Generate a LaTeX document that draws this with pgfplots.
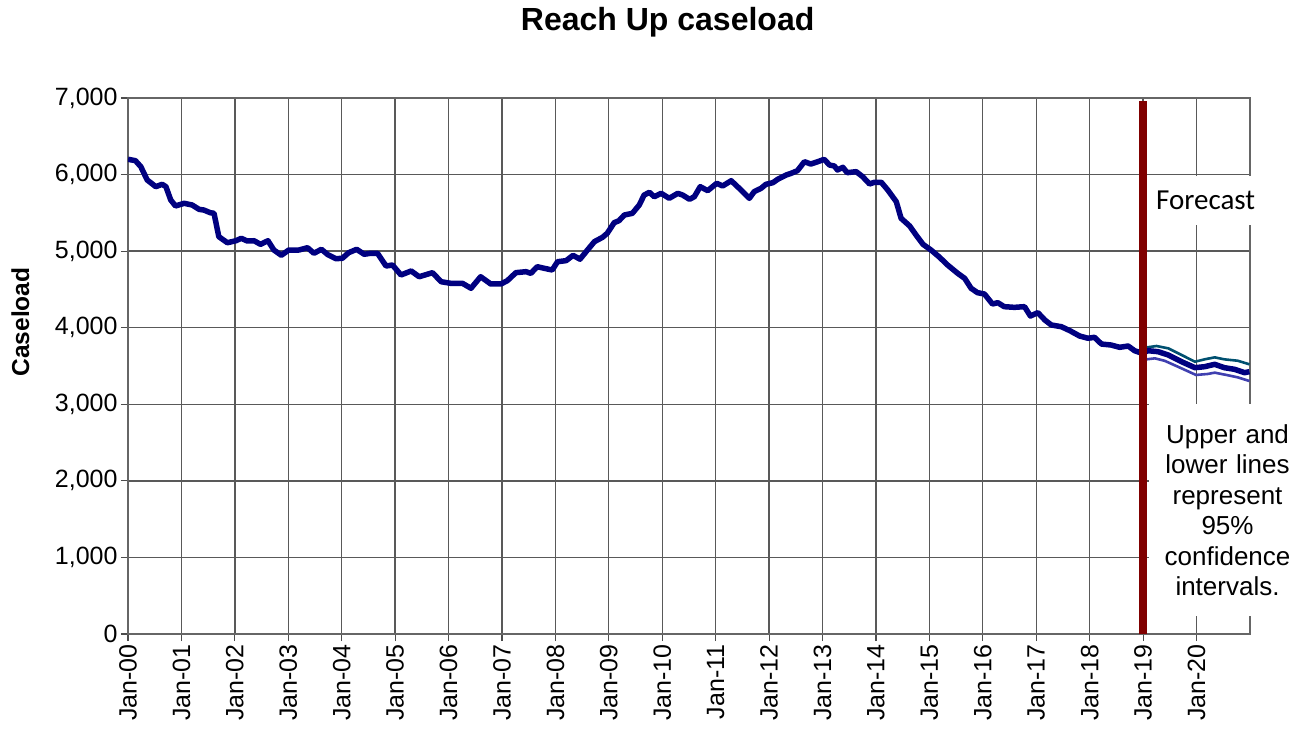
\documentclass[border=0pt]{standalone}
\usepackage{fontspec}
\setmainfont{Liberation Sans}
\newfontfamily\carlito{Carlito}
\usepackage{pgfplots}
\pgfplotsset{compat=1.18}
\definecolor{navyc}{RGB}{0,0,128}
\definecolor{upc}{RGB}{0,80,112}
\definecolor{loc}{RGB}{64,64,176}
\definecolor{fred}{RGB}{128,0,0}
\begin{document}
\begin{tikzpicture}
\begin{axis}[
  scale only axis, width=1122pt, height=536pt,
  xmin=0, xmax=21, ymin=0, ymax=7000,
  clip mode=individual,
  xtick={0,...,20},
  xticklabels={Jan-00,Jan-01,Jan-02,Jan-03,Jan-04,Jan-05,Jan-06,Jan-07,Jan-08,Jan-09,Jan-10,Jan-11,Jan-12,Jan-13,Jan-14,Jan-15,Jan-16,Jan-17,Jan-18,Jan-19,Jan-20},
  ytick={0,1000,...,7000},
  grid=major, major grid style={black!65, line width=1.3pt},
  axis line style={black!60, line width=1.3pt},
  tick style={black!70, line width=1.2pt}, tick align=outside, major tick length=7pt,
  xtick pos=bottom, ytick pos=left,
  x tick label style={rotate=90, anchor=east, font=\fontsize{25}{25}\selectfont},
  y tick label style={font=\fontsize{25}{25}\selectfont},
  /pgf/number format/1000 sep={,}, /pgf/number format/assume math mode=true,
  ylabel={Caseload},
  ylabel style={font=\fontsize{24.5}{24.5}\selectfont\bfseries, at={(axis description cs:-0.096,0.582)}, anchor=center},
  title={Reach Up caseload},
  title style={font=\fontsize{32}{32}\selectfont\bfseries, at={(axis description cs:0.481,1)}, anchor=center, yshift=70pt},
]
\node[fill=white, inner sep=0pt, minimum width=120pt, minimum height=49pt, font=\carlito\fontsize{29}{29}\selectfont] at (axis cs:20.17,5666) {Forecast};
\node[fill=white, inner sep=0pt, text width=158pt, align=center, minimum height=212pt, font=\fontsize{26}{30.5}\selectfont] at (axis cs:20.58,1619) {Upper and\\lower lines\\represent\\95\%\\confidence\\intervals.};
\addplot[upc, line width=2.6pt] coordinates {
(17.28,4048) (17.47,4025) (17.63,3973) (17.81,3904) (17.97,3874) (18.09,3887) (18.22,3799) (18.40,3786) (18.56,3756) (18.72,3773) (18.84,3712) (18.98,3678)
(19.03,3739) (19.25,3761) (19.47,3731) (19.72,3644) (19.97,3556) (20.15,3587) (20.34,3613) (20.52,3587) (20.77,3569) (20.99,3522)};
\addplot[loc, line width=2.6pt] coordinates {
(18.98,3660) (19.06,3587) (19.22,3600) (19.40,3569) (19.65,3491) (19.99,3383) (20.21,3396) (20.34,3413) (20.56,3383) (20.77,3352) (20.99,3304)};
\addplot[navyc, line width=5.5pt, line join=round] coordinates {
(0.00,6200) (0.14,6181) (0.24,6103) (0.36,5929) (0.52,5842) (0.64,5873) (0.71,5842) (0.80,5668) (0.89,5590)
(1.05,5625) (1.20,5603) (1.33,5546) (1.42,5537) (1.54,5502) (1.61,5494) (1.70,5189) (1.86,5110)
(2.02,5136) (2.12,5168) (2.23,5133) (2.36,5136) (2.48,5089) (2.62,5136) (2.73,5015) (2.87,4946)
(3.01,5015) (3.20,5015) (3.36,5045) (3.48,4972) (3.62,5024) (3.74,4954) (3.89,4902)
(4.01,4906) (4.13,4980) (4.28,5024) (4.42,4959) (4.54,4972) (4.67,4972) (4.83,4806) (4.95,4819)
(5.11,4689) (5.30,4741) (5.45,4666) (5.70,4719) (5.86,4601)
(6.04,4580) (6.26,4580) (6.42,4515) (6.60,4666) (6.79,4571) (6.98,4571)
(7.10,4614) (7.26,4719) (7.45,4732) (7.54,4710) (7.66,4797) (7.79,4776) (7.94,4754)
(8.04,4862) (8.20,4876) (8.33,4945) (8.46,4895) (8.60,5015) (8.73,5124) (8.88,5180) (8.97,5233)
(9.10,5372) (9.19,5398) (9.29,5472) (9.44,5494) (9.57,5603) (9.66,5733) (9.76,5768) (9.85,5711) (9.98,5755)
(10.13,5690) (10.29,5755) (10.38,5733) (10.51,5677) (10.60,5711) (10.71,5842) (10.85,5790)
(11.02,5886) (11.13,5851) (11.29,5920) (11.44,5821) (11.63,5690) (11.72,5777) (11.85,5821) (11.94,5873)
(12.07,5894) (12.16,5938) (12.32,5995) (12.41,6016) (12.53,6051) (12.66,6168) (12.78,6138) (12.91,6168)
(13.03,6199) (13.13,6125) (13.22,6112) (13.28,6060) (13.38,6095) (13.46,6025) (13.63,6038) (13.75,5973) (13.88,5877) (13.97,5899)
(14.10,5899) (14.22,5799) (14.38,5646) (14.47,5429) (14.63,5329) (14.75,5211) (14.88,5089)
(15.03,5015) (15.19,4920) (15.34,4819) (15.53,4710) (15.66,4645) (15.78,4515) (15.90,4458)
(16.03,4440) (16.18,4310) (16.28,4327) (16.40,4275) (16.59,4266) (16.78,4275) (16.89,4153)
(17.03,4197) (17.16,4101) (17.28,4036) (17.47,4013) (17.63,3961) (17.81,3892) (17.97,3862)
(18.09,3875) (18.22,3787) (18.40,3774) (18.56,3744) (18.72,3761) (18.84,3700) (18.98,3666)
(19.09,3700) (19.28,3687) (19.47,3644) (19.72,3556) (19.97,3478)
(20.15,3491) (20.34,3522) (20.52,3478) (20.71,3457) (20.90,3413) (20.99,3426)};
\addplot[fred, line width=7.4pt] coordinates {(19,0) (19,6960)};
\end{axis}
\pgfresetboundingbox
\path (-128pt,-95pt) rectangle (1179pt,634pt);
\end{tikzpicture}
\end{document}
